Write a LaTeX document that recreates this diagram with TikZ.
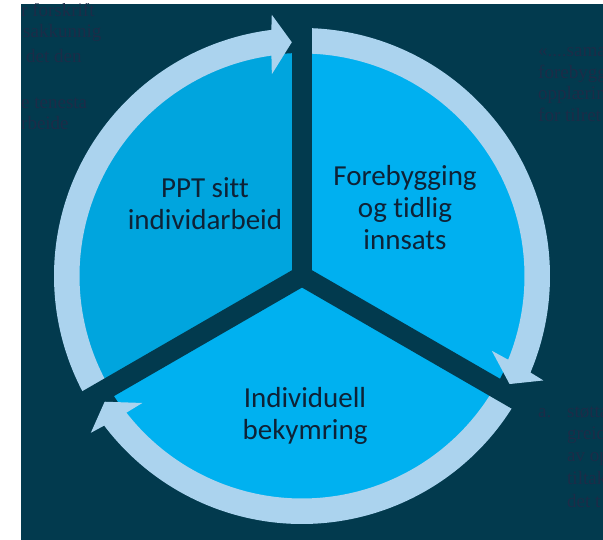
\documentclass[tikz,border=0pt]{standalone}
\usepackage{fontspec}
\newfontfamily\labelfont[Ligatures=NoCommon]{Carlito}
\newfontfamily\faintfont{Liberation Serif}
\definecolor{bgdark}{HTML}{023A4E}
\definecolor{ringcol}{HTML}{ABD3EE}
\definecolor{wedgeL}{HTML}{00A5DE}
\definecolor{wedgeR}{HTML}{00B0F0}
\definecolor{wedgeB}{HTML}{00B1F0}
\definecolor{labelcol}{HTML}{0E2236}
\definecolor{faintcol}{HTML}{1C2C48}
\tikzset{
  lbl/.style={font=\labelfont\fontsize{29}{32}\selectfont, text=labelcol, align=center, inner sep=0pt},
  faint/.style={font=\faintfont\fontsize{19}{21}\selectfont, text=faintcol, anchor=base west, inner sep=0pt},
  divider/.style={draw=bgdark, line width=20pt, line cap=butt},
}
\newcommand{\ringarrow}[1]{%
  \begin{scope}[rotate=#1]
    \fill[ringcol] (210:248) arc[start angle=210, end angle=97.1, radius=248]
      -- (96.6:263) -- (92.5:234) -- (98.5:204) -- (97.9:222.5)
      arc[start angle=97.9, end angle=210, radius=222.5] -- cycle;
  \end{scope}}
\begin{document}
\begin{tikzpicture}[x=1pt,y=1pt]
\useasboundingbox (0,0) rectangle (603,540);
\fill[white] (0,0) rectangle (603,540);
\fill[bgdark] (21,0) rectangle (603,536);
\begin{scope}
  \clip (21,0) rectangle (603,536);
  \node[faint] (t1) at (21,523) {r forskrift};
  \node[faint] (t2) at (23,502) {sakkunnig};
  \node[faint] (t3) at (26,477) {det den};
  \node[faint] (t4) at (21,431) {e tenesta};
  \node[faint] (t5) at (21,410) {rbeide};
  \node[faint] (r1) at (538,483) {«....sama};
  \node[faint] (r2) at (538,461.5) {forebygg};
  \node[faint] (r3) at (538,440) {opplærin};
  \node[faint] (r4) at (538,418.5) {for tilret};
  \node[faint] (b0) at (538,122) {a.};
  \node[faint] (b1) at (567,122) {støtta};
  \node[faint] (b2) at (567,100.5) {greid};
  \node[faint] (b3) at (567,78) {av op};
  \node[faint] (b4) at (567,55) {tiltak};
  \node[faint] (b5) at (567,32) {det t};
\end{scope}
\begin{scope}[shift={(302,264)}]
  \coordinate (O) at (0,0);
  \fill[wedgeL] (O) -- (90:223) arc[start angle=90, end angle=210, radius=223] -- cycle;
  \fill[wedgeR] (O) -- (-30:223) arc[start angle=-30, end angle=90, radius=223] -- cycle;
  \fill[wedgeB] (O) -- (210:223) arc[start angle=210, end angle=330, radius=223] -- cycle;
  \ringarrow{0}
  \ringarrow{-120}
  \ringarrow{-240}
  \coordinate (eU) at (90:270);
  \coordinate (eL) at (210:262);
  \coordinate (eR) at (330:262);
  \draw[divider] (O) -- (eU);
  \draw[divider] (O) -- (eL);
  \draw[divider] (O) -- (eR);
  \fill[bgdark] (O) circle (10);
\end{scope}
\node[lbl] (ppt) at (205,336) {PPT sitt\\individarbeid};
\node[lbl] (fore) at (405,332) {Forebygging\\og tidlig\\innsats};
\node[lbl] (ind) at (305,124) {Individuell\\bekymring};
\end{tikzpicture}
\end{document}
